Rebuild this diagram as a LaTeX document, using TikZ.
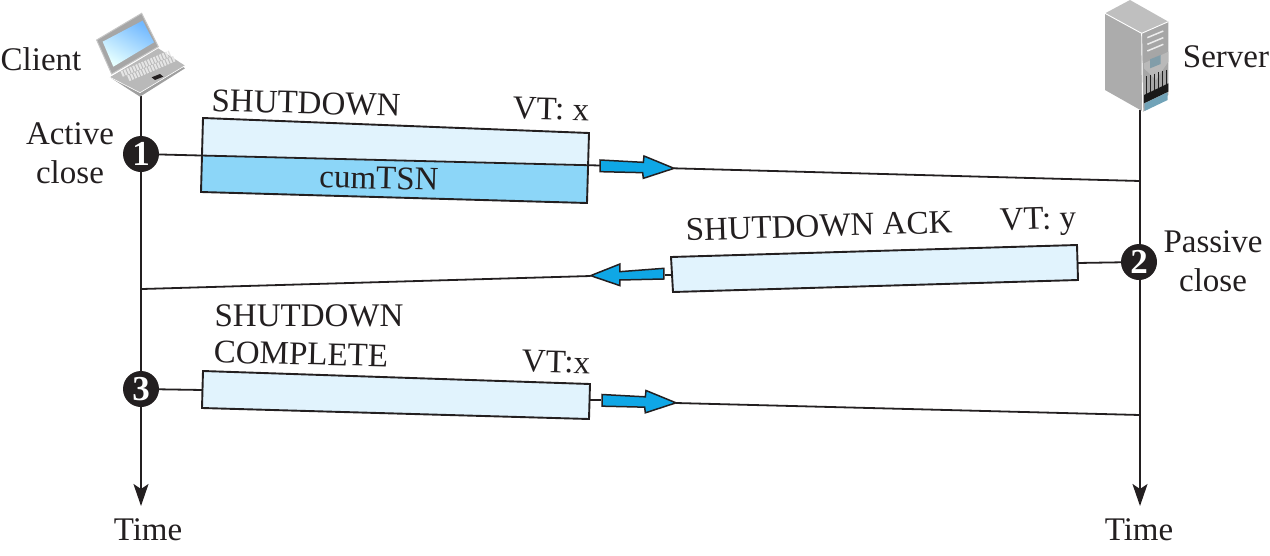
\documentclass[tikz,border=0pt]{standalone}
\usepackage{fontspec}
\setmainfont{Liberation Serif}
\usetikzlibrary{arrows.meta}
\definecolor{lightbox}{HTML}{E1F3FD}
\definecolor{darkbox}{HTML}{8CD6F8}
\definecolor{arrowblue}{HTML}{0FA7E6}
\definecolor{inkline}{HTML}{231F20}
\tikzset{
  lbl/.style={font=\fontsize{33}{35}\selectfont,text=inkline,inner sep=0pt,align=center},
  wire/.style={draw=inkline,line width=1.8pt},
  lifeline/.style={draw=inkline,line width=2.2pt,-{Stealth[length=22pt,width=15pt,inset=5pt]}},
  boxshape/.style={draw=inkline,line width=1.9pt,fill=lightbox},
  bigarrow/.style={draw=inkline,line width=1.5pt,fill=arrowblue},
  badge/.style={circle,fill=inkline,minimum size=36pt,inner sep=0pt,text=white,font=\fontsize{35}{35}\selectfont\bfseries},
  zoomed/.style={x=0.3333pt,y=-0.3333pt},
}
\begin{document}
\begin{tikzpicture}[x=1pt,y=-1pt]
\useasboundingbox (0,0) rectangle (1270,555);
% named anchors
\coordinate (cTop) at (141,96);
\coordinate (cEnd) at (141,506);
\coordinate (sTop) at (1140,110);
\coordinate (sEnd) at (1140,506);
\coordinate (a1s) at (141,154);
\coordinate (a1m) at (600,165.5);
\coordinate (a1t) at (674,168.3);
\coordinate (a1e) at (1140,181);
\coordinate (a2s) at (1139,262);
\coordinate (a2m) at (1077,263);
\coordinate (a2b) at (665,275);
\coordinate (a2t) at (590.5,276);
\coordinate (a2e) at (142,289);
\coordinate (a3s) at (141,389);
\coordinate (a3m) at (203,390);
\coordinate (a3a) at (590,400);
\coordinate (a3b) at (601,400);
\coordinate (a3t) at (676,403);
\coordinate (a3e) at (1140,415);
% lifelines
\draw[lifeline] (cTop) -- (cEnd);
\draw[lifeline] (sTop) -- (sEnd);
% box 1
\fill[lightbox] (203,118) -- (589,133) -- (588,166) -- (202,156) -- cycle;
\fill[darkbox] (202,156) -- (588,166) -- (587,203) -- (201,192) -- cycle;
\draw[inkline,line width=1.9pt] (203,118) -- (589,133) -- (587,203) -- (201,192) -- cycle;
% box 2
\draw[boxshape] (671,257) -- (1077,245) -- (1078,280) -- (673,292) -- cycle;
% box 3
\draw[boxshape] (203,371) -- (590,384) -- (589,419) -- (202,408) -- cycle;
% connectors
\draw[wire] (a1s) -- (a1m);
\draw[wire] (a1t) -- (a1e);
\draw[wire] (a2m) -- (a2s);
\draw[wire] (a2t) -- (a2e);
\draw[wire] (a2b) -- (671,275);
\draw[wire] (a3s) -- (a3m);
\draw[wire] (a3a) -- (a3b);
\draw[wire] (a3t) -- (a3e);
% block arrows
\begin{scope}[shift={(560,130)},zoomed]
\draw[bigarrow] (120,90) -- (250,97) -- (252,78) -- (342,115) -- (250,145) -- (248,128) -- (120,125) -- cycle;
\draw[bigarrow] (312,415) -- (180,425) -- (180,402) -- (92,437) -- (180,467) -- (180,450) -- (312,447) -- cycle;
\end{scope}
\begin{scope}[shift={(562,364.5)},zoomed]
\draw[bigarrow] (120,90) -- (250,97) -- (252,78) -- (342,115) -- (250,145) -- (248,128) -- (120,125) -- cycle;
\end{scope}
% badges
\node[badge] (n1) at (a1s) {1};
\node[badge] (n2) at (a2s) {2};
\node[badge] (n3) at (a3s) {3};
% labels
\node[lbl] (client) at (41,59) {Client};
\node[lbl] (server) at (1226,57) {Server};
\node[lbl] (active) at (70,153) {Active\\[3.5pt]close};
\node[lbl] (passive) at (1213,261) {Passive\\[3.5pt]close};
\node[lbl] (time1) at (148,530) {Time};
\node[lbl] (time2) at (1139,530) {Time};
\node[lbl,rotate=-1.5] (l1) at (306,103) {SHUTDOWN};
\node[lbl,rotate=-1.5] (l2) at (551,109) {VT: x};
\node[lbl,rotate=-1.5] (l3) at (379,178) {cumTSN};
\node[lbl,rotate=1.7] (l4) at (819,226) {SHUTDOWN ACK};
\node[lbl,rotate=1.7] (l5) at (1038,222) {VT: y};
\node[lbl] (l6) at (309,316) {SHUTDOWN};
\node[lbl,rotate=-1.5] (l7) at (301,354) {COMPLETE};
\node[lbl,rotate=-1.5] (l8) at (556,362) {VT:x};
% laptop
\begin{scope}[zoomed]
\fill[gray!75] (330,232) -- (420,290) -- (555,205) -- (475,150) -- cycle;
\fill[gray!55] (330,232) -- (420,278) -- (555,197) -- (475,145) -- cycle;
\draw[white,line width=.6pt] (330,232) -- (420,278) -- (555,197);
\fill[gray!70] (290,120) -- (425,40) -- (475,140) -- (335,222) -- cycle;
\draw[gray!45,line width=1pt] (290,120) -- (425,40) -- (475,140) -- (335,222) -- cycle;
\shade[top color=cyan!50!blue!55,bottom color=cyan!10,shading angle=-30] (308,125) -- (428,62) -- (462,127) -- (340,200) -- cycle;
\draw[gray!20,line width=6pt,dash pattern=on 2pt off 1.2pt] (365,222) -- (510,160);
\draw[gray!20,line width=6pt,dash pattern=on 2pt off 1.2pt] (385,235) -- (525,175);
\fill[inkline] (455,232) -- (480,222) -- (490,230) -- (465,240) -- cycle;
\end{scope}
% server
\begin{scope}[shift={(1070,0)},zoomed]
\fill[gray!65] (105,40) -- (215,100) -- (220,335) -- (105,270) -- cycle;
\fill[gray!50] (105,40) -- (180,0) -- (295,65) -- (215,100) -- cycle;
\fill[gray!70] (215,100) -- (295,65) -- (295,285) -- (220,335) -- cycle;
\draw[white,line width=.9pt] (105,40) -- (215,100) -- (295,65);
\draw[white,line width=.9pt] (215,100) -- (218,335);
\foreach \y in {105,125,145}
  \draw[white!85!gray,line width=1.5pt] (232,\y+8) -- (280,\y-12);
\fill[gray!55] (222,190) -- (295,155) -- (295,185) -- (258,240) -- (222,205) -- cycle;
\fill[cyan!25!gray] (240,178) -- (272,165) -- (272,192) -- (240,205) -- cycle;
\foreach \x in {230,242,...,290}
  \draw[gray!25!black,line width=.8pt] (\x,{228-(\x-230)*0.3}) -- (\x,{285-(\x-230)*0.4});
\fill[gray!20!black] (222,285) -- (295,250) -- (295,275) -- (222,310) -- cycle;
\fill[cyan!40!gray] (224,310) -- (293,277) -- (293,300) -- (224,333) -- cycle;
\end{scope}
\end{tikzpicture}
\end{document}
